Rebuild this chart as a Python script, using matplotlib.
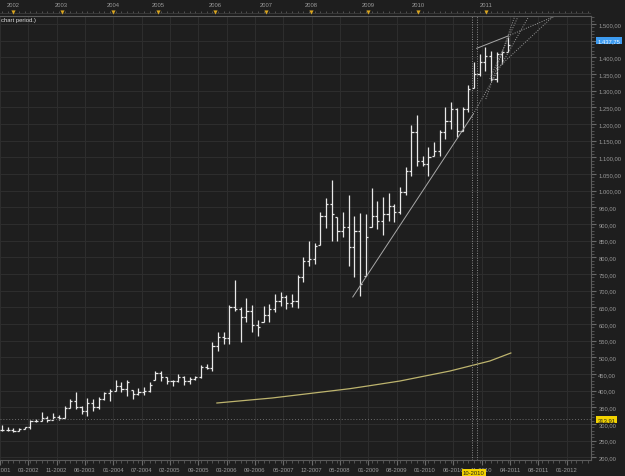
import numpy as np
import matplotlib
matplotlib.use('Agg')
from matplotlib import pyplot as plt
from matplotlib import transforms

plt.rcParams['font.family'] = ['Liberation Sans', 'DejaVu Sans']

bg = '#1e1e1e'
grid_c = '#2d2d2d'
text_c = '#9a9a9a'
bar_c = '#e8e8e8'
fs = 4.2

# OHLC bars (open = previous close)
highs = [297, 292, 287, 289, 292, 312, 315, 335, 325, 332,
         328, 355, 375, 395, 355, 377, 375, 382, 397, 405,
         433, 425, 432, 403, 408, 410, 425, 458, 458, 440,
         433, 450, 445, 440, 445, 478, 480, 545, 575, 575,
         657, 732, 650, 677, 657, 613, 653, 660, 690, 695,
         687, 690, 747, 800, 850, 843, 937, 977, 1032, 920,
         935, 988, 925, 933, 930, 1007, 970, 982, 993, 960,
         1012, 1070, 1197, 1227, 1105, 1130, 1147, 1182, 1250, 1265,
         1247, 1250, 1317, 1385, 1410, 1430, 1420, 1415, 1420, 1460]
lows = [280, 278, 277, 279, 284, 285, 305, 308, 305, 313,
        313, 317, 348, 345, 330, 325, 340, 345, 373, 370,
        400, 395, 385, 375, 388, 387, 395, 432, 430, 420,
        415, 427, 418, 420, 433, 437, 465, 460, 520, 540,
        540, 640, 545, 605, 575, 563, 607, 605, 635, 655,
        645, 650, 647, 725, 775, 780, 837, 887, 850, 850,
        860, 775, 740, 685, 745, 890, 885, 867, 910, 905,
        930, 987, 1045, 1075, 1075, 1045, 1105, 1105, 1155, 1185,
        1160, 1180, 1235, 1307, 1345, 1360, 1330, 1325, 1380, 1415]
closes = [283, 282, 280, 286, 290, 308, 310, 318, 312, 322,
          318, 348, 368, 350, 340, 362, 352, 375, 392, 400,
          415, 405, 425, 390, 395, 400, 418, 452, 440, 428,
          428, 440, 430, 435, 440, 470, 468, 535, 560, 558,
          650, 645, 620, 640, 598, 590, 628, 645, 668, 682,
          662, 668, 740, 790, 795, 835, 925, 960, 930, 878,
          890, 830, 880, 720, 860, 925, 910, 930, 955, 935,
          995, 1060, 1175, 1090, 1080, 1100, 1120, 1175, 1210, 1245,
          1180, 1245, 1305, 1350, 1385, 1405, 1335, 1410, 1415, 1437.75]
first_open = 281

# long moving average (yellow)
ma_x = [37.8, 47.5, 52.4, 61.2, 64.7, 70.0, 78.8, 85.8, 89.5]
ma_val = [363, 378, 388, 406, 415, 429, 459, 489, 513]

# drawn trend lines: (x0, x1), (y0, y1)
solid_lines = [((61.7, 82.9), (681, 1230)),
               ((83.5, 89.0), (1427, 1464))]
dotted_lines = [((82.9, 92.7), (1230, 1524)),
                ((89.0, 97.3), (1464, 1524)),
                ((85.8, 90.8), (1335, 1524)),
                ((85.1, 90.2), (1275, 1524)),
                ((87.0, 97.0), (1365, 1524))]
cursor_x = [82.7, 83.6]
ref_level = 313.91

year_labels = ['2002', '2003', '2004', '2005', '2006', '2007', '2008', '2009', '2010', '2011']
year_pos = [1.9, 10.5, 19.5, 27.4, 37.5, 46.4, 54.4, 64.4, 73.2, 85.1]

date_labels = ['11-2001', '03-2002', '11-2002', '06-2003', '01-2004', '07-2004',
               '02-2005', '09-2005', '03-2006', '09-2006', '05-2007', '12-2007',
               '05-2008', '01-2009', '08-2009', '01-2010', '06-2010', '11-2010',
               '04-2011', '08-2011', '01-2012']
cursor_label = '10-2010'


def euro(v):
    s = '{:,.2f}'.format(v)
    return s.replace(',', 'X').replace('.', ',').replace('X', '.')


n = len(closes)
x = np.arange(n)
opens = np.clip([first_open] + closes[:-1], lows, highs)

fig = plt.figure(figsize=(6.25, 4.77), dpi=100, facecolor=bg)
ax = fig.add_axes([0, 16 / 477, 591 / 625, 444 / 477])
ax.set_facecolor(bg)
ax.set_xlim(-0.35, 103.6)
ax.set_ylim(192, 1524)

# grid
ax.set_yticks(np.arange(200, 1501, 50))
ax.set_yticks(np.arange(200, 1521, 10), minor=True)
xt = -0.35 + 4.983 * np.arange(len(date_labels))
ax.set_xticks(xt)
ax.set_xticklabels(date_labels)
ax.set_xticks(np.arange(0, 104), minor=True)
ax.set_yticklabels([euro(v) for v in np.arange(200, 1501, 50)])
ax.grid(True, which='major', color=grid_c, lw=0.8)
ax.set_axisbelow(True)

ax.yaxis.tick_right()
ax.tick_params(axis='y', which='major', length=3.5, color='#6a6a6a', labelsize=fs,
               labelcolor=text_c, pad=1.8)
ax.tick_params(axis='y', which='minor', length=2, color='#5a5a5a')
ax.tick_params(axis='x', which='major', length=3.5, color='#6a6a6a', labelsize=fs,
               labelcolor=text_c, pad=1.8)
ax.tick_params(axis='x', which='minor', length=2, color='#5a5a5a')
ax.spines['left'].set_visible(False)
for s in ['top', 'right', 'bottom']:
    ax.spines[s].set_color('#5c5c5c')
    ax.spines[s].set_linewidth(0.8)

# bars
tick = 0.38
ax.vlines(x, lows, highs, color=bar_c, lw=0.9)
ax.hlines(opens, x - tick, x, color=bar_c, lw=0.9)
ax.hlines(closes, x, x + tick, color=bar_c, lw=0.9)

ax.plot(ma_x, ma_val, color='#bdb46e', lw=0.9)

for (xs, ys) in solid_lines:
    ax.plot(xs, ys, color='#a8a8a8', lw=0.7)
for (xs, ys) in dotted_lines:
    ax.plot(xs, ys, color='#9a9a9a', lw=0.7, ls=(0, (1, 1.5)))
for cx in cursor_x:
    ax.axvline(cx, color='#8a8a8a', lw=0.7, ls=(0, (1, 1.5)))
ax.axhline(ref_level, color='#6e6e6e', lw=0.7, ls=(0, (1, 2)))

ax.text(0.002, 0.9917, 'chart period.)', transform=ax.transAxes, fontsize=fs,
        color='#e0e0e0', va='center', ha='left')

# price labels on the right scale
ty = transforms.blended_transform_factory(ax.transAxes, ax.transData)
ax.text(1.011, 1450, euro(closes[-1]), transform=ty, fontsize=fs, color='#e8f4ff',
        va='center', ha='left', clip_on=False, zorder=10,
        bbox=dict(boxstyle='square,pad=0.2', fc='#3d9bf0', ec='none'))
ax.text(1.011, ref_level, euro(ref_level), transform=ty, fontsize=fs, color='#202020',
        va='center', ha='left', clip_on=False, zorder=10,
        bbox=dict(boxstyle='square,pad=0.2', fc='#f2d200', ec='none'))

tx = transforms.blended_transform_factory(ax.transData, ax.transAxes)
ax.text(np.mean(cursor_x) - 0.2, -0.0283, cursor_label, transform=tx, fontsize=fs,
        color='#202020', va='center', ha='center', clip_on=False, zorder=10,
        bbox=dict(boxstyle='square,pad=0.2', fc='#f2d200', ec='none'))

# top year ruler
top = fig.add_axes([0, 460 / 477, 591 / 625, 17 / 477])
top.set_xlim(ax.get_xlim())
top.set_ylim(0, 1)
top.axis('off')
top.vlines(np.arange(0, 104), 0.2, 0.32, color='#5a5a5a', lw=0.6)
top.axhline(0.2, color='#3c3c3c', lw=0.6)
for lab, p in zip(year_labels, year_pos):
    top.text(p, 0.66, lab, ha='center', va='center', fontsize=fs, color=text_c)
top.scatter(year_pos, [0.24] * len(year_pos), marker='v', s=9, color='#d9a520',
            linewidths=0, zorder=3)

fig.savefig('out.png', dpi=100, facecolor=bg)
